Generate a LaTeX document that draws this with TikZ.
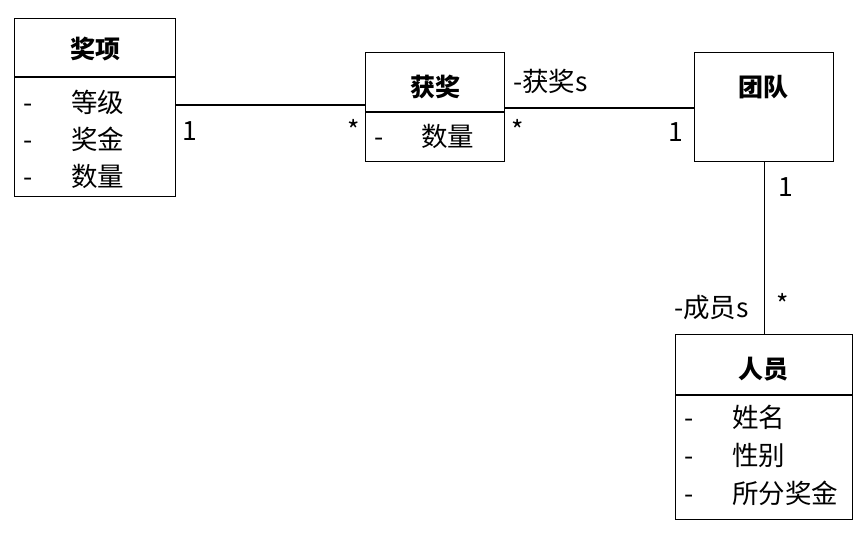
\documentclass[tikz,border=0pt]{standalone}
\usepackage{fontspec}
\setmainfont{Noto Sans CJK SC}
\begin{document}
\begin{tikzpicture}[x=1pt,y=-1pt,
  box/.style={draw,line width=1.2pt,anchor=north west,inner sep=0pt},
  title/.style={font=\fontsize{25}{28}\selectfont\bfseries,inner sep=0pt,anchor=center},
  attr/.style={font=\fontsize{26.5}{30}\selectfont,inner sep=0pt,anchor=west},
  vismark/.style={font=\fontsize{26.5}{30}\selectfont,inner sep=0pt,anchor=west,execute at begin node={\vphantom{等}}},
  lbl/.style={font=\fontsize{26.5}{30}\selectfont,inner sep=0pt,anchor=center},
  conn/.style={line width=1.2pt}]
\useasboundingbox (0,0) rectangle (866,534);
% boxes
\node[box,minimum width=161pt,minimum height=178pt] (jx) at (14,18) {};
\node[box,minimum width=139pt,minimum height=109pt] (hj) at (365,52) {};
\node[box,minimum width=139pt,minimum height=109pt] (td) at (694,52) {};
\node[box,minimum width=177pt,minimum height=185pt] (ry) at (675,334) {};
% dividers
\draw[conn] (jx.west |- 0,77) -- (jx.east |- 0,77);
\draw[conn] (hj.west |- 0,112) -- (hj.east |- 0,112);
\draw[conn] (ry.west |- 0,395) -- (ry.east |- 0,395);
% titles
\node[title] (tjx) at (95,49) {奖项};
\node[title] (thj) at (435,87) {获奖};
\node[title] (ttd) at (763,87) {团队};
\node[title] (try) at (763,369) {人员};
% attributes
\node[vismark] (d1) at (23,102) {-};
\node[attr] (a1) at (71,102) {等级};
\node[vismark] (d2) at (23,139) {-};
\node[attr] (a2) at (71,139) {奖金};
\node[vismark] (d3) at (23,176) {-};
\node[attr] (a3) at (71,176) {数量};
\node[vismark] (d4) at (374,136) {-};
\node[attr] (a4) at (421,136) {数量};
\node[vismark] (d5) at (684,417) {-};
\node[attr] (a5) at (732,417) {姓名};
\node[vismark] (d6) at (684,455) {-};
\node[attr] (a6) at (732,455) {性别};
\node[vismark] (d7) at (684,493) {-};
\node[attr] (a7) at (732,493) {所分奖金};
% connectors
\draw[conn] (jx.east |- 0,105) -- (hj.west |- 0,105);
\draw[conn] (hj.east |- 0,108) -- (td.west |- 0,108);
\draw[conn] (td.south) -- (ry.north);
% multiplicities
\node[lbl] (m1) at (190,131) {1};
\node[lbl] (m2) at (354,130) {*};
\node[lbl] (m3) at (518,130) {*};
\node[lbl] (m4) at (676,132) {1};
\node[lbl] (m5) at (786,187) {1};
\node[lbl] (m6) at (783,304) {*};
\node[attr] (r1) at (513,81) {-获奖s};
\node[attr] (r2) at (674,308) {-成员s};
\end{tikzpicture}
\end{document}
